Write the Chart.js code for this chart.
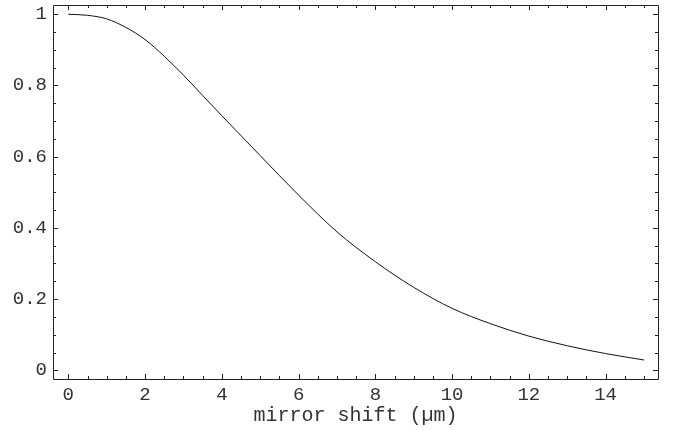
<!DOCTYPE html>
<html>
<head>
<meta charset="utf-8">
<script src="https://cdn.jsdelivr.net/npm/chart.js@4/dist/chart.umd.min.js"></script>
<style>
html,body{margin:0;padding:0;background:#fff;}
#wrap{width:679px;height:430px;position:relative;}
</style>
</head>
<body>
<div id="wrap"><canvas id="c" width="679" height="430"></canvas></div>
<script>
// Data
const shiftUm = [0, 0.5, 1, 1.5, 2, 2.5, 3, 3.5, 4, 5, 6, 7, 8, 9, 10, 11, 12, 13, 14, 15];
const signal  = [1.0, 0.997, 0.987, 0.963, 0.929, 0.882, 0.829, 0.772, 0.715, 0.603, 0.492, 0.389, 0.305, 0.233, 0.174, 0.131, 0.096, 0.069, 0.047, 0.029];
const xMajorTicks = [0, 2, 4, 6, 8, 10, 12, 14];
const yMajorTicks = [0, 0.2, 0.4, 0.6, 0.8, 1];
const xMinorTicks = [0.5, 1, 1.5, 2.5, 3, 3.5, 4.5, 5, 5.5, 6.5, 7, 7.5, 8.5, 9, 9.5, 10.5, 11, 11.5, 12.5, 13, 13.5, 14.5, 15];
const yMinorTicks = [0.05, 0.1, 0.15, 0.25, 0.3, 0.35, 0.45, 0.5, 0.55, 0.65, 0.7, 0.75, 0.85, 0.9, 0.95];
const yLabels = {0: '0', 0.2: '0.2', 0.4: '0.4', 0.6: '0.6', 0.8: '0.8', 1: '1'};
const xTitle = 'mirror shift (\u00b5m)';

const points = shiftUm.map((x, i) => ({x: x, y: signal[i]}));
const FONT = "'Liberation Mono', 'DejaVu Sans Mono', monospace";
const INK = '#222';

const frameTicks = {
  id: 'frameTicks',
  afterDraw(chart) {
    const ctx = chart.ctx;
    const a = chart.chartArea;
    const xs = chart.scales.x, ys = chart.scales.y;
    ctx.save();
    ctx.strokeStyle = INK;
    ctx.lineWidth = 1;
    ctx.beginPath();
    ctx.rect(Math.round(a.left) + 0.5, Math.round(a.top) + 0.5, Math.round(a.right - a.left), Math.round(a.bottom - a.top));
    ctx.stroke();
    const tick = (vals, len, horiz) => {
      vals.forEach(v => {
        if (horiz) {
          const p = Math.round(xs.getPixelForValue(v)) + 0.5;
          ctx.moveTo(p, a.bottom); ctx.lineTo(p, a.bottom - len);
          ctx.moveTo(p, a.top); ctx.lineTo(p, a.top + len);
        } else {
          const p = Math.round(ys.getPixelForValue(v)) + 0.5;
          ctx.moveTo(a.left, p); ctx.lineTo(a.left + len, p);
          ctx.moveTo(a.right, p); ctx.lineTo(a.right - len, p);
        }
      });
    };
    ctx.beginPath();
    tick(xMajorTicks, 5, true);
    tick(xMinorTicks, 3, true);
    tick(yMajorTicks, 5, false);
    tick(yMinorTicks, 3, false);
    ctx.stroke();
    ctx.restore();
  }
};

new Chart(document.getElementById('c'), {
  type: 'line',
  data: {
    datasets: [{
      data: points,
      borderColor: '#111',
      borderWidth: 1,
      pointRadius: 0,
      cubicInterpolationMode: 'monotone',
      fill: false
    }]
  },
  options: {
    responsive: false,
    animation: false,
    events: [],
    layout: {padding: {top: 5, right: 21, bottom: 0, left: 0}},
    plugins: {legend: {display: false}, tooltip: {enabled: false}},
    scales: {
      x: {
        type: 'linear',
        min: -0.399,
        max: 15.365,
        afterBuildTicks: s => { s.ticks = xMajorTicks.map(v => ({value: v})); },
        afterFit: s => { s.height = 51; s.paddingLeft = 0; s.paddingRight = 0; },
        grid: {display: false, drawTicks: false},
        border: {display: false},
        ticks: {
          padding: 5,
          color: '#333',
          font: {family: FONT, size: 19},
          maxRotation: 0,
          callback: v => String(v)
        },
        title: {
          display: true,
          text: xTitle,
          color: '#333',
          font: {family: FONT, size: 20},
          padding: {top: 0, bottom: 2}
        }
      },
      y: {
        type: 'linear',
        min: -0.0244,
        max: 1.026,
        afterBuildTicks: s => { s.ticks = yMajorTicks.map(v => ({value: v})); },
        afterFit: s => { s.width = 53; s.paddingTop = 0; s.paddingBottom = 0; },
        grid: {display: false, drawTicks: false},
        border: {display: false},
        ticks: {
          padding: 6,
          color: '#333',
          font: {family: FONT, size: 19},
          callback: v => yLabels[v] !== undefined ? yLabels[v] : String(v)
        }
      }
    }
  },
  plugins: [frameTicks]
});
</script>
</body>
</html>
